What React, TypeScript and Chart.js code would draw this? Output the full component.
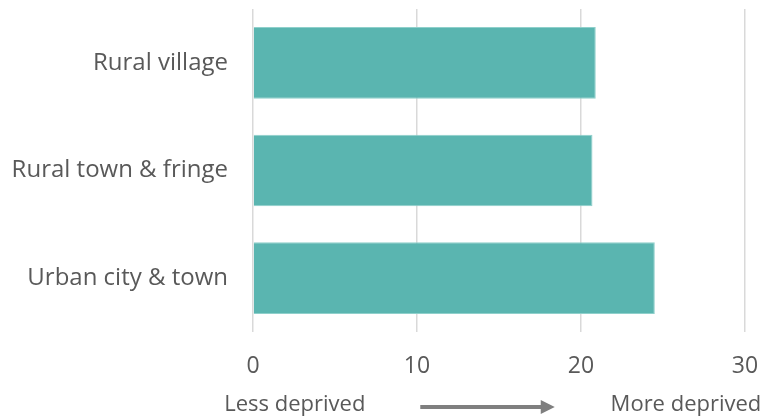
import React, { useEffect, useRef } from "react";
import { Chart, registerables } from "chart.js";

Chart.register(...registerables);

const categories = ["Rural village", "Rural town & fringe", "Urban city & town"];
const values = [20.9, 20.7, 24.5];
const xTicks = [0, 10, 20, 30];
const leftNote = "Less deprived";
const rightNote = "More deprived";

const FONT = "'Open Sans', sans-serif";
const TEXT = "#595959";

const notesPlugin = {
  id: "notes",
  afterDraw(chart: any) {
    const ctx = chart.ctx;
    const xs = chart.scales.x;
    ctx.save();
    ctx.font = `22px ${FONT}`;
    ctx.fillStyle = TEXT;
    ctx.textBaseline = "middle";
    ctx.textAlign = "center";
    const y = 405;
    ctx.fillText(leftNote, xs.getPixelForValue(2.55), y);
    ctx.fillText(rightNote, xs.getPixelForValue(26.4), y);
    const x0 = xs.getPixelForValue(10.2);
    const x1 = xs.getPixelForValue(18.4);
    ctx.strokeStyle = "#7f7f7f";
    ctx.fillStyle = "#7f7f7f";
    ctx.lineWidth = 4;
    ctx.beginPath();
    ctx.moveTo(x0, y + 2);
    ctx.lineTo(x1 - 12, y + 2);
    ctx.stroke();
    ctx.beginPath();
    ctx.moveTo(x1 - 14, y + 2 - 7);
    ctx.lineTo(x1, y + 2);
    ctx.lineTo(x1 - 14, y + 2 + 7);
    ctx.closePath();
    ctx.fill();
    ctx.restore();
  },
};

export default function App() {
  const ref = useRef<HTMLCanvasElement | null>(null);
  useEffect(() => {
    document.body.style.margin = "0";
    const chart = new Chart(ref.current as HTMLCanvasElement, {
      type: "bar",
      data: {
        labels: categories,
        datasets: [
          {
            data: values,
            backgroundColor: "#5ab5b0",
            borderColor: "#8fd0cb",
            borderWidth: 1,
            barPercentage: 0.665,
            categoryPercentage: 1,
          },
        ],
      },
      options: {
        indexAxis: "y",
        responsive: false,
        animation: false,
        layout: { padding: { top: 9, right: 31, left: 0, bottom: 0 } },
        plugins: { legend: { display: false }, tooltip: { enabled: false } },
        scales: {
          x: {
            min: 0,
            max: 30,
            afterBuildTicks: (s: any) => {
              s.ticks = xTicks.map((v) => ({ value: v }));
            },
            afterFit: (s: any) => {
              s.height = 88;
              s.paddingLeft = 0;
              s.paddingRight = 0;
            },
            grid: { color: "#d9d9d9", lineWidth: 1.5, drawTicks: false },
            border: { display: false },
            ticks: { color: TEXT, font: { family: FONT, size: 23 }, padding: 21 },
          },
          y: {
            afterFit: (s: any) => {
              s.width = 253;
              s.paddingTop = 0;
              s.paddingBottom = 0;
            },
            grid: { display: false },
            border: { display: false },
            ticks: { color: TEXT, font: { family: FONT, size: 24 }, padding: 17 },
          },
        },
      },
      plugins: [notesPlugin],
    });
    return () => chart.destroy();
  }, []);
  return <canvas ref={ref} width={776} height={420} style={{ display: "block" }} />;
}
